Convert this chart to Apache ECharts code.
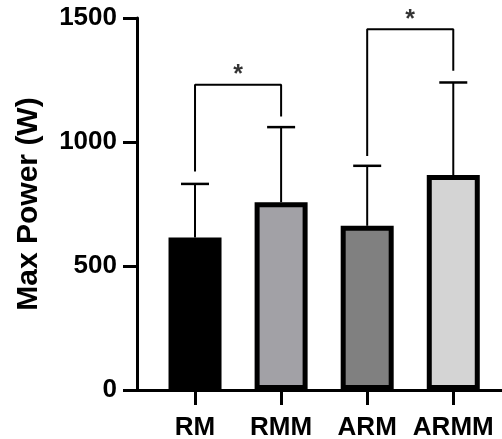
<!DOCTYPE html>
<html>
<head>
<meta charset="utf-8">
<script src="https://cdn.jsdelivr.net/npm/echarts@6/dist/echarts.min.js"></script>
<style>html,body{margin:0;padding:0;background:#fff}#c{width:502px;height:439px}</style>
</head>
<body>
<div id="c"></div>
<script>
const categories = ['RM', 'RMM', 'ARM', 'ARMM'];
const means = [615, 757, 662, 867];
const sds = [216, 303, 242, 373];
const barColors = ['#000000', '#a2a1a6', '#808080', '#d4d4d4'];
const yTicks = [0, 500, 1000, 1500];
const bracketPairs = [[0, 1], [2, 3]];
const bracketTop = [1231, 1455];
const bracketLeftEnd = [881, 944];
const bracketRightEnd = [1103, 1287];
const bracketMarks = ['*', '*'];

const font = 'Liberation Sans, Arial, Helvetica, sans-serif';
const chart = echarts.init(document.getElementById('c'), null, {renderer: 'canvas'});

const barData = categories.map((c, i) => ({
  value: [i, means[i]],
  itemStyle: {color: barColors[i]}
}));
const errData = categories.map((c, i) => [i, means[i], sds[i]]);

const bracketSeries = bracketPairs.map((p, k) => ({
  type: 'line',
  data: [[p[0], bracketLeftEnd[k]], [p[0], bracketTop[k]], [p[1], bracketTop[k]], [p[1], bracketRightEnd[k]]],
  symbol: 'none',
  lineStyle: {color: '#000', width: 2},
  silent: true,
  z: 5,
  animation: false
}));

const starSeries = {
  type: 'scatter',
  data: bracketPairs.map((p, k) => [(p[0] + p[1]) / 2, bracketTop[k]]),
  symbolSize: 0,
  label: {
    show: true,
    position: 'top',
    distance: -3,
    formatter: (p) => bracketMarks[p.dataIndex],
    color: '#000',
    fontSize: 25,
    fontWeight: 'bold',
    fontFamily: font
  },
  silent: true,
  animation: false
};

chart.setOption({
  animation: false,
  grid: {left: 137, right: 0, top: 18, bottom: 49, containLabel: false, outerBoundsMode: 'none'},
  xAxis: {
    type: 'value',
    min: -0.674,
    max: 3.566,
    splitLine: {show: false},
    axisLine: {show: true, lineStyle: {color: '#000', width: 3}},
    axisTick: {show: true, customValues: [0, 1, 2, 3], length: 15, lineStyle: {color: '#000', width: 3}},
    axisLabel: {
      show: true,
      customValues: [0, 1, 2, 3],
      formatter: (v) => categories[Math.round(v)],
      color: '#000',
      fontSize: 26,
      fontWeight: 'bold',
      fontFamily: font,
      margin: 25
    }
  },
  yAxis: {
    type: 'value',
    min: yTicks[0],
    max: yTicks[yTicks.length - 1],
    interval: 500,
    name: 'Max Power (W)',
    nameLocation: 'middle',
    nameGap: 93,
    nameTextStyle: {color: '#000', fontSize: 30, fontWeight: 'bold', fontFamily: font},
    splitLine: {show: false},
    axisLine: {show: true, onZero: false, lineStyle: {color: '#000', width: 3}},
    axisTick: {show: true, length: 14, lineStyle: {color: '#000', width: 3}},
    axisLabel: {
      formatter: (v) => String(v),
      color: '#000',
      fontSize: 26,
      fontWeight: 'bold',
      fontFamily: font,
      margin: 20
    }
  },
  series: [
    {
      type: 'bar',
      data: barData,
      barWidth: 53,
      itemStyle: {borderColor: '#000', borderWidth: 5},
      z: 3
    },
    {
      type: 'custom',
      data: errData,
      z: 2,
      renderItem: (params, api) => {
        const x = api.value(0), m = api.value(1), e = api.value(2);
        const base = api.coord([x, m]);
        const top = api.coord([x, m + e]);
        return {
          type: 'group',
          children: [
            {type: 'line', shape: {x1: base[0], y1: base[1], x2: top[0], y2: top[1]}, style: {stroke: '#000', lineWidth: 2}},
            {type: 'line', shape: {x1: top[0] - 14, y1: top[1], x2: top[0] + 14, y2: top[1]}, style: {stroke: '#000', lineWidth: 2.5}}
          ]
        };
      }
    },
    ...bracketSeries,
    starSeries
  ]
});
</script>
</body>
</html>
